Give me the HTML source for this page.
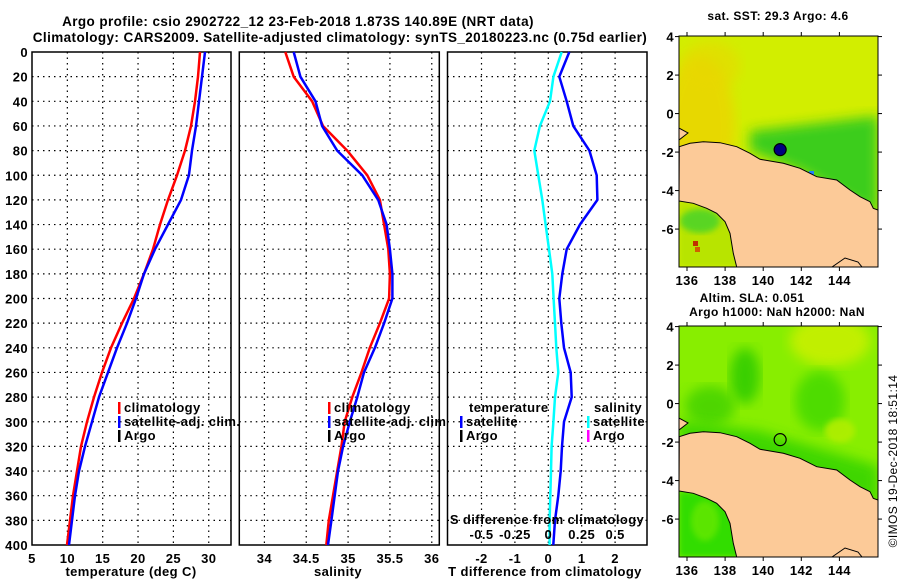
<!DOCTYPE html>
<html><head><meta charset="utf-8"><style>
html,body{margin:0;padding:0;background:#fff;}
svg{display:block;font-family:"Liberation Sans",Arial,sans-serif;font-weight:bold;letter-spacing:0.4px;}
</style></head><body>
<svg id="c" width="900" height="580" viewBox="0 0 900 580" xmlns="http://www.w3.org/2000/svg">
<defs>
<filter id="blur6"><feGaussianBlur stdDeviation="6"/></filter>
<filter id="blur3"><feGaussianBlur stdDeviation="3"/></filter>
<clipPath id="clip1"><rect x="679" y="36" width="199" height="231"/></clipPath>
<clipPath id="clip2"><rect x="679" y="326" width="199" height="231"/></clipPath>
</defs>
<text x="298" y="26" text-anchor="middle" font-size="13.5">Argo profile: csio 2902722_12 23-Feb-2018 1.873S 140.89E (NRT data)</text>
<text x="340" y="42" text-anchor="middle" font-size="13.5">Climatology: CARS2009. Satellite-adjusted climatology: synTS_20180223.nc (0.75d earlier)</text>
<g id="g"></g>
</svg>
<script>
const depths=[0,20,40,60,80,100,120,140,160,180,200,220,240,260,280,300,320,340,360,380,400];
const tempClim=[28.76,28.48,28.06,27.49,26.64,25.51,24.24,23.1,22.11,20.84,19.43,17.73,16.17,14.9,13.77,12.78,11.93,11.36,10.8,10.37,9.95];
const tempSat=[29.47,29.05,28.62,28.2,27.63,27.2,26.08,24.24,22.4,20.84,19.71,18.44,17.02,15.75,14.48,13.49,12.5,11.65,11.08,10.66,10.23];
const salClim=[34.25,34.35,34.57,34.70,34.99,35.23,35.38,35.43,35.48,35.50,35.49,35.38,35.26,35.16,35.05,34.96,34.92,34.87,34.82,34.77,34.74];
const salSat=[34.35,34.43,34.61,34.69,34.87,35.17,35.36,35.46,35.50,35.53,35.53,35.43,35.32,35.19,35.11,35.02,34.94,34.88,34.84,34.80,34.76];
const tDiff=[0.63,0.33,0.55,0.75,1.23,1.45,1.47,0.95,0.55,0.42,0.33,0.39,0.47,0.67,0.7,0.47,0.41,0.37,0.3,0.2,0.15];
const sDiff=[0.1,0.038,0.013,-0.063,-0.105,-0.075,-0.045,-0.02,0.005,0.03,0.04,0.05,0.06,0.075,0.05,0.038,0.025,0.02,0.015,0.01,0.01];
const depthTicks=[0,20,40,60,80,100,120,140,160,180,200,220,240,260,280,300,320,340,360,380,400];
const tempTicks=[5,10,15,20,25,30];
const salTicks=[34,34.5,35,35.5,36];
const tdTicks=[-2,-1,0,1,2];
const sdTicks=[-0.5,-0.25,0,0.25,0.5];
const sdPos=[-2,-1,0,1,2];
const lonTicks=[136,138,140,142,144];
const latTicks=[4,2,0,-2,-4,-6];
const argoLon=140.89, argoLat=-1.873;

const NS='http://www.w3.org/2000/svg';
const G=document.getElementById('g');
function mk(tag,attrs,parent){const e=document.createElementNS(NS,tag);for(const k in attrs)e.setAttribute(k,attrs[k]);(parent||G).appendChild(e);return e;}
function txt(x,y,s,size,anchor,parent){const t=mk('text',{x:x,y:y,'font-size':size||13,'text-anchor':anchor||'middle'},parent);t.textContent=s;return t;}

const PT=52,PB=545;
const yD=d=>PT+(d/400)*(PB-PT);
const xT=v=>32+(v-5)*(231-32)/(33.15-5);
const xS=v=>239.3+(v-33.70)*(439.3-239.3)/(36.09-33.70);
const xTD=v=>548.3+v*33.4;
const xSD=v=>xTD(v*4);

function panel(x0,x1,name,xticks,xf,withLabels){
  const g=mk('g',{});
  
  
  mk('rect',{x:x0,y:PT,width:x1-x0,height:PB-PT,fill:'#fff',stroke:'#000','stroke-width':1.5},g);
  depthTicks.forEach(d=>{if(d>0&&d<400){const l=mk('line',{x1:x0,x2:x1,y1:yD(d),y2:yD(d),stroke:'#000','stroke-width':1.2,'stroke-dasharray':'1.5,4'},g);}});
  xticks.forEach(v=>{const X=xf(v);if(X>x0+1&&X<x1-1){const l=mk('line',{x1:X,x2:X,y1:PT,y2:PB,stroke:'#000','stroke-width':1.2,'stroke-dasharray':'1.5,4'},g);}
    const t=txt(X,563,String(v),13,'middle',g);});
  if(withLabels){depthTicks.forEach(d=>{const t=txt(28,yD(d)+5,String(d),13,'end',g);});}
  return g;
}
function line(vals,xf,color,name,w){
  const pts=vals.map((v,i)=>xf(v).toFixed(1)+','+yD(depths[i]).toFixed(1)).join(' ');
  const p=mk('polyline',{points:pts,fill:'none',stroke:color,'stroke-width':w||2.5,'stroke-linejoin':'round'});
  
  
}
function legItem(x,y,color,label,name){
  const g=mk('g',{});
  
  
  mk('rect',{x:x,y:y-10,width:2.5,height:12,fill:color},g);
  txt(x+6,y,label,13,'start',g);
}

panel(32,231,'temperature-panel',tempTicks,xT,true);
line(tempClim,xT,'#ff0000','temp-climatology-line');
line(tempSat,xT,'#0000ff','temp-satellite-line');
legItem(118,412,'#ff0000','climatology','legend-climatology');
legItem(118,426,'#0000ff','satellite-adj. clim.','legend-satellite-adj');
legItem(118,440,'#000','Argo','legend-argo');
let t=txt(131,576,'temperature (deg C)');

panel(239.3,439.3,'salinity-panel',salTicks,xS,false);
line(salClim,xS,'#ff0000','sal-climatology-line');
line(salSat,xS,'#0000ff','sal-satellite-line');
legItem(328,412,'#ff0000','climatology','legend-climatology-sal');
legItem(328,426,'#0000ff','satellite-adj. clim.','legend-satellite-adj-sal');
legItem(328,440,'#000','Argo','legend-argo-sal');
t=txt(338,576,'salinity');

panel(447.5,647,'difference-panel',tdTicks,xTD,false);
line(sDiff,xSD,'#00ffff','s-diff-satellite-line');
line(tDiff,xTD,'#0000ff','t-diff-satellite-line');
t=txt(469,412,'temperature',13,'start');
legItem(460,426,'#0000ff','satellite','legend-t-satellite');
legItem(460,440,'#000','Argo','legend-t-argo');
t=txt(594,412,'salinity',13,'start');
legItem(587,426,'#00ffff','satellite','legend-s-satellite');
legItem(587,440,'#ff00ff','Argo','legend-s-argo');
t=txt(547,524,'S difference from climatology');
sdTicks.forEach(v=>{const e=txt(xSD(v),539,String(v));});
t=txt(545,576,'T difference from climatology');

const MX0=679,MX1=878;
const xLon=l=>MX0+(l-135.58)*19.05;
const yLat=(la,top)=>top+(4.03-la)*19.25;
const landPts=[[679.3,146.7],[690,143.3],[703.3,141.7],[720,142.7],[736.7,146.7],[750,153.3],[760,159.3],[783.3,163.3],[800,168.3],[816.7,176.7],[836.7,180],[850,190],[860,196.7],[870,201.7],[873.3,208.3],[878,210],[878,267],[736.7,267],[733.3,253.3],[730,233.3],[725,221.7],[716.7,213.3],[706.7,208.3],[693.3,203.3],[679,201]];
function map(top,name,kind){
  const off=top-36;
  const g=mk('g',{});
  
  
  const inner=mk('g',{'clip-path':'url(#clip'+(kind==='sst'?1:2)+')'},g);
  if(kind==='sst'){
    mk('rect',{x:679,y:top,width:199,height:231,fill:'#d2ee00'},inner);
    mk('ellipse',{cx:700,cy:top+90,rx:35,ry:70,fill:'#f0d000',opacity:0.7,filter:'url(#blur6)'},inner);
    mk('ellipse',{cx:710,cy:top+30,rx:30,ry:25,fill:'#e8d800',opacity:0.6,filter:'url(#blur6)'},inner);
    mk('polygon',{points:`750,${top+95} 878,${top+80} 878,${top+180} 800,${top+135} 750,${top+115}`,fill:'#22c820',opacity:0.85,filter:'url(#blur6)'},inner);
    mk('polygon',{points:`679,${top+165} 740,${top+170} 740,${top+231} 679,${top+231}`,fill:'#b8e400',filter:'url(#blur3)'},inner);
    mk('ellipse',{cx:700,cy:top+185,rx:20,ry:12,fill:'#30d030',opacity:0.7,filter:'url(#blur3)'},inner);
    mk('rect',{x:693,y:top+205,width:5,height:5,fill:'#c03000'},inner);
    mk('rect',{x:695,y:top+211,width:5,height:5,fill:'#d06000'},inner);
    mk('rect',{x:809,y:top+135,width:5,height:5,fill:'#2080ff'},inner);
  } else {
    mk('rect',{x:679,y:top,width:199,height:231,fill:'#88ee00'},inner);
    mk('ellipse',{cx:830,cy:top+15,rx:40,ry:25,fill:'#d0f000',opacity:0.8,filter:'url(#blur6)'},inner);
    mk('ellipse',{cx:745,cy:top+50,rx:15,ry:28,fill:'#30cc00',opacity:0.9,filter:'url(#blur6)'},inner);
    mk('ellipse',{cx:710,cy:top+80,rx:25,ry:20,fill:'#40d000',opacity:0.8,filter:'url(#blur6)'},inner);
    mk('ellipse',{cx:820,cy:top+75,rx:25,ry:30,fill:'#40d800',opacity:0.8,filter:'url(#blur6)'},inner);
    mk('ellipse',{cx:840,cy:top+105,rx:15,ry:12,fill:'#b0ee00',opacity:0.9,filter:'url(#blur3)'},inner);
    mk('polygon',{points:`679,${top+95} 760,${top+105} 878,${top+140} 878,${top+180} 800,${top+150} 679,${top+115}`,fill:'#38d400',opacity:0.9,filter:'url(#blur6)'},inner);
    mk('polygon',{points:`679,${top+165} 740,${top+170} 740,${top+231} 679,${top+231}`,fill:'#33dd00',filter:'url(#blur3)'},inner);
    mk('ellipse',{cx:705,cy:top+195,rx:14,ry:20,fill:'#66e800',opacity:0.8,filter:'url(#blur3)'},inner);
  }
  const land=mk('polygon',{points:landPts.map(p=>p[0]+','+(p[1]+off)).join(' '),fill:'#fcca98',stroke:'#000','stroke-width':1},inner);
  
  
  mk('polygon',{points:`679,${top+92} 688,${top+97} 679,${top+104}`,fill:'#fcca98',stroke:'#000','stroke-width':1},inner);
  mk('polygon',{points:`832,${top+231} 845,${top+222} 858,${top+226} 862,${top+231}`,fill:'#fcca98',stroke:'#000','stroke-width':1},inner);
  mk('rect',{x:679,y:top,width:199,height:231,fill:'none',stroke:'#000','stroke-width':1},g);
  lonTicks.forEach(l=>{const X=xLon(l);mk('line',{x1:X,x2:X,y1:top,y2:top-4,stroke:'#000'},g);mk('line',{x1:X,x2:X,y1:top+231,y2:top+235,stroke:'#000'},g);
    const e=txt(X,top+249,String(l),13,'middle',g);});
  latTicks.forEach(la=>{const Y=yLat(la,top);mk('line',{x1:MX1,x2:MX1+4,y1:Y,y2:Y,stroke:'#000'},g);mk('line',{x1:MX0,x2:MX0-4,y1:Y,y2:Y,stroke:'#000'},g);
    const e=txt(674,Y+5,String(la),13,'end',g);});
  const cx=xLon(argoLon),cy=yLat(argoLat,top);
  const m=mk('circle',{cx:cx,cy:cy,r:6,fill:kind==='sst'?'#000080':'none',stroke:'#000','stroke-width':1.2},g);
  
  
}
map(36,'sst-map','sst');
map(326,'sla-map','sla');
t=txt(778,20,'sat. SST: 29.3 Argo: 4.6',12);
t=txt(752,302,'Altim. SLA: 0.051',12);
t=txt(777,316,'Argo h1000: NaN h2000: NaN',12);
t=txt(0,0,'©IMOS 19-Dec-2018 18:51:14',12);t.setAttribute('transform','translate(897,461) rotate(-90)');t.setAttribute('font-weight','normal');
</script>
</body></html>
